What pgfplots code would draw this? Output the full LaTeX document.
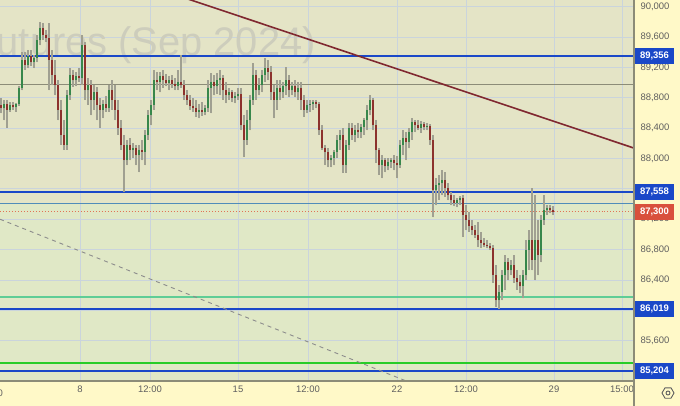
\documentclass[border=0pt]{standalone}
\usepackage{pgfplots}
\usepackage{pgfplotstable}
\pgfplotsset{compat=1.18}
\usepackage{fontspec}
\setmainfont{Liberation Sans}
\definecolor{bgtop}{RGB}{228,228,198}
\definecolor{bgbot}{RGB}{224,232,198}
\definecolor{panel}{RGB}{255,249,200}
\definecolor{gridc}{RGB}{202,212,220}
\definecolor{lvlblue}{RGB}{26,72,200}
\definecolor{trendred}{RGB}{128,40,48}
\definecolor{upc}{RGB}{55,135,75}
\definecolor{downc}{RGB}{140,50,45}
\definecolor{wickc}{RGB}{160,160,145}
\definecolor{ticktext}{RGB}{95,95,95}
\definecolor{boxred}{RGB}{217,80,60}
\definecolor{axisc}{RGB}{140,140,120}
\definecolor{wmc}{RGB}{205,205,188}
\definecolor{lvlsteel}{RGB}{80,140,185}
\definecolor{mintline}{RGB}{95,205,150}
\definecolor{lvlgreen}{RGB}{40,205,40}
\definecolor{dotred}{RGB}{225,115,85}

\pgfplotstableread{
x o h l c
1 88705 88797 88599 88665
4 88665 88771 88507 88718
7 88718 88771 88402 88639
10 88639 88744 88613 88705
13 88705 88744 88639 88678
16 88678 88731 88613 88718
19 88718 88955 88692 88929
22 88929 89403 88902 89298
25 89298 89403 89166 89232
28 89232 89429 89192 89350
31 89350 89429 89219 89271
34 89271 89363 89192 89324
37 89324 89627 89271 89561
40 89561 89798 89495 89719
43 89719 89785 89561 89627
46 89627 89693 89535 89587
49 89587 89785 88902 89298
52 89298 89429 88968 89100
55 89100 89298 88836 88968
58 88968 89034 88507 88639
61 88639 88771 88178 88310
64 88310 88507 88112 88178
67 88178 88902 88112 88836
70 88836 89192 88771 89100
73 89100 89166 88942 89034
76 89034 89140 88955 89087
79 89087 89192 89008 89060
82 89060 89627 88968 89495
85 89495 89535 88771 88902
88 88902 89060 88705 88968
91 88968 89034 88573 88771
94 88771 88968 88639 88876
97 88876 88942 88507 88705
100 88705 88797 88402 88639
103 88639 88771 88533 88718
106 88718 88823 88613 88665
109 88665 88968 88613 88902
112 88902 89034 88639 88771
115 88771 88968 88507 88639
118 88639 88771 88310 88402
121 88402 88507 88112 88178
124 88178 88310 87559 87980
127 87980 88244 87914 88178
130 88178 88270 87980 88112
133 88112 88204 88007 88138
136 88138 88178 87914 88046
139 88046 88178 87822 88112
142 88112 88244 87980 88086
145 88086 88375 87914 88310
148 88310 88639 88244 88573
151 88573 88771 88441 88705
154 88705 89166 88639 89034
157 89034 89140 88902 89008
160 89008 89140 88876 89087
163 89087 89166 88929 89034
166 89034 89113 88955 88995
169 88995 89087 88902 89034
172 89034 89100 88929 88981
175 88981 89060 88902 88955
178 88955 89166 88902 89008
181 89008 89363 88929 88968
184 88968 89034 88771 88836
187 88836 88902 88705 88771
190 88771 88836 88639 88692
193 88692 88797 88613 88665
196 88665 88771 88547 88613
199 88613 88718 88533 88639
202 88639 88744 88560 88613
205 88613 88705 88573 88665
208 88665 89034 88613 88929
211 88929 89126 88599 89008
214 89008 89100 88836 88955
217 88955 89126 88850 89034
220 89034 89166 88836 89060
223 89060 89100 88771 88902
226 88902 89008 88731 88836
229 88836 88929 88771 88876
232 88876 88902 88744 88797
235 88797 88876 88731 88823
238 88823 88929 88771 88850
241 88850 88929 88375 88441
244 88441 88573 88020 88244
247 88244 88639 88178 88507
250 88507 88836 88375 88771
253 88771 89258 88705 89100
256 89100 89166 88771 88902
259 88902 89060 88836 88968
262 88968 89166 88876 89100
265 89100 89324 89008 89192
268 89192 89298 89034 89140
271 89140 89219 88771 88876
274 88876 88968 88533 88771
277 88771 89034 88639 88929
280 88929 89034 88771 88876
283 88876 89008 88797 88955
286 88955 89205 88836 89034
289 89034 89100 88810 88902
292 88902 89008 88836 88955
295 88955 89034 88810 88876
298 88876 89008 88771 88929
301 88929 89008 88639 88771
304 88771 88836 88547 88639
307 88639 88771 88599 88705
310 88705 88771 88613 88718
313 88718 88771 88639 88744
316 88744 88771 88665 88718
319 88718 88744 88310 88375
322 88375 88441 88112 88138
325 88138 88178 87914 88086
328 88086 88138 87888 87980
331 87980 88046 87888 88007
334 88007 88112 87914 88086
337 88086 88310 88007 88244
340 88244 88375 88112 88310
343 88310 88402 87809 87914
346 87914 88244 87809 88178
349 88178 88468 88112 88402
352 88402 88468 88244 88310
355 88310 88441 88217 88375
358 88375 88468 88270 88349
361 88349 88454 88270 88415
364 88415 88533 88310 88507
367 88507 88705 88375 88639
370 88639 88836 88573 88771
373 88771 88797 88375 88441
376 88441 88507 87941 88112
379 88112 88138 87783 87914
382 87914 88046 87743 87980
385 87980 88007 87822 87901
388 87901 88007 87848 87954
391 87954 88007 87875 87980
394 87980 88046 87848 87941
397 87941 88033 87743 87914
400 87914 88244 87875 88178
403 88178 88375 88046 88270
406 88270 88349 87980 88217
409 88217 88402 88138 88349
412 88349 88533 88244 88481
415 88481 88507 88349 88441
418 88441 88507 88375 88402
421 88402 88494 88336 88454
424 88454 88481 88375 88415
427 88415 88468 88375 88428
430 88428 88454 88178 88244
433 88244 88310 87229 87585
436 87585 87743 87387 87651
439 87651 87783 87453 87677
442 87677 87848 87519 87717
445 87717 87822 87493 87611
448 87611 87677 87453 87519
451 87519 87559 87387 87453
454 87453 87519 87374 87414
457 87414 87480 87361 87453
460 87453 87506 87387 87480
463 87480 87519 86966 87256
466 87256 87387 87058 87190
469 87190 87295 87032 87111
472 87111 87190 86992 87058
475 87058 87124 86953 86992
478 86992 87163 86834 86926
481 86926 87032 86821 86887
484 86887 86953 86834 86860
487 86860 86926 86821 86847
490 86847 86887 86795 86821
493 86821 86860 86360 86465
496 86465 86597 86044 86136
499 86136 86333 86017 86241
502 86241 86531 86136 86465
505 86465 86729 86268 86636
508 86636 86689 86399 86531
511 86531 86663 86465 86597
514 86597 86729 86360 86426
517 86426 86531 86268 86373
520 86373 86465 86228 86320
523 86320 86531 86162 86465
526 86465 86926 86399 86795
529 86795 87058 86531 86926
532 86926 87611 86531 86663
535 86663 87519 86399 86926
538 86926 87190 86465 86729
541 86729 87256 86636 87190
544 87190 87519 87124 87321
547 87321 87387 87256 87348
550 87348 87387 87282 87321
553 87321 87374 87256 87300
}\candles

\begin{document}
\begin{tikzpicture}
\useasboundingbox (0,-25bp) rectangle (680bp,381bp);
\fill[panel] (0,-25bp) rectangle (680bp,381bp);
\fill[bgtop] (0,178bp) rectangle (634bp,381bp);
\fill[bgbot] (0,0) rectangle (634bp,178bp);
\begin{axis}[
  scale only axis, width=634bp, height=381bp, at={(0,0)}, anchor=south west,
  xmin=0, xmax=634, ymin=85069, ymax=90088,
  axis line style={draw=none},
  xtick={80,150,238,308,397,466,554,622},
  xticklabels={8,12:00,15,12:00,22,12:00,29,15:00},
  ytick={85200,85600,86000,86400,86800,87200,87600,88000,88400,88800,89200,89600,90000},
  yticklabels={{85,200},{85,600},{86,000},{86,400},{86,800},{87,200},{87,600},{88,000},{88,400},{88,800},{89,200},{89,600},{90,000}},
  yticklabel pos=right,
  major tick length=0pt,
  grid=major, major grid style={gridc, line width=0.8bp},
  tick label style={font=\fontsize{9.5}{11}\selectfont, text=ticktext},
  yticklabel style={anchor=west, xshift=3bp},
  xticklabel style={yshift=-1.5bp},
  candle/.style={only marks, mark=*, mark size=0pt, mark options={draw=none, fill=none},
    error bars/.cd, y dir=plus, y explicit, error mark=none},
]
\node[anchor=base east, font=\fontsize{40}{40}\selectfont, text=wmc, inner sep=0pt] at (axis cs:316,89363) {Futures (Sep 2024)};
% levels
\addplot[color=lvlsteel, line width=1bp] coordinates {(0,87411) (634,87411)};
\addplot[color=axisc, line width=1bp] coordinates {(0,88980) (634,88980)};
\addplot[color=dotred, line width=1bp, dotted] coordinates {(0,87300) (634,87300)};
\addplot[color=lvlgreen, line width=1.1bp] coordinates {(0,85306) (634,85306)};
\addplot[color=lvlblue, line width=2bp] coordinates {(0,89356) (634,89356)};
\addplot[color=lvlblue, line width=2bp] coordinates {(0,87558) (634,87558)};
\addplot[color=lvlblue, line width=2bp] coordinates {(0,86019) (634,86019)};
\addplot[color=lvlblue, line width=2bp] coordinates {(0,85204) (634,85204)};
\addplot[color=mintline, line width=2bp] coordinates {(0,86172) (634,86172)};
% candles
\addplot[candle, error bar style={wickc, line width=1.5bp}]
  table[x=x, y=l, y error expr={\thisrow{h}-\thisrow{l}}] {\candles};
\addplot[candle, error bar style={upc, line width=1.1bp}]
  table[x=x, y expr={\thisrow{c}>=\thisrow{o} ? \thisrow{o} : nan}, y error expr={\thisrow{c}-\thisrow{o}}] {\candles};
\addplot[candle, error bar style={downc, line width=1.1bp}]
  table[x=x, y expr={\thisrow{c}<\thisrow{o} ? \thisrow{c} : nan}, y error expr={\thisrow{o}-\thisrow{c}}] {\candles};
% trend lines
\addplot[color=trendred, line width=1.6bp] coordinates {(170,90180) (634,88137)};
\addplot[color=black!45, line width=0.9bp, dash pattern=on 4bp off 4bp] coordinates {(0,87200) (420,84997)};
\coordinate (b1) at (axis cs:634,89356);
\coordinate (b2) at (axis cs:634,87558);
\coordinate (b3) at (axis cs:634,87300);
\coordinate (b4) at (axis cs:634,86019);
\coordinate (b5) at (axis cs:634,85204);
\end{axis}
\draw[axisc, line width=1.5bp] (0,0) -- (634bp,0);
\draw[axisc, line width=1.5bp] (634bp,-25bp) -- (634bp,381bp);
\tikzset{lbl/.style={anchor=west, text=white, font=\fontsize{9.5}{11}\selectfont\bfseries, minimum width=39bp, minimum height=16bp, inner sep=0pt, xshift=0.8bp}}
\node[lbl, fill=lvlblue] at (b1) {89,356};
\node[lbl, fill=lvlblue] at (b2) {87,558};
\node[lbl, fill=boxred] at (b3) {87,300};
\node[lbl, fill=lvlblue] at (b4) {86,019};
\node[lbl, fill=lvlblue] at (b5) {85,204};
\node[anchor=east, text=ticktext, font=\fontsize{9.5}{11}\selectfont, inner sep=0pt] at (3bp,-12bp) {12:00};
\draw[ticktext, line width=0.9bp] (674bp,-12bp) -- (671bp,-6.8bp) -- (665bp,-6.8bp) -- (662bp,-12bp) -- (665bp,-17.2bp) -- (671bp,-17.2bp) -- cycle;
\draw[ticktext, line width=0.9bp] (668bp,-12bp) circle (2bp);
\end{tikzpicture}
\end{document}
